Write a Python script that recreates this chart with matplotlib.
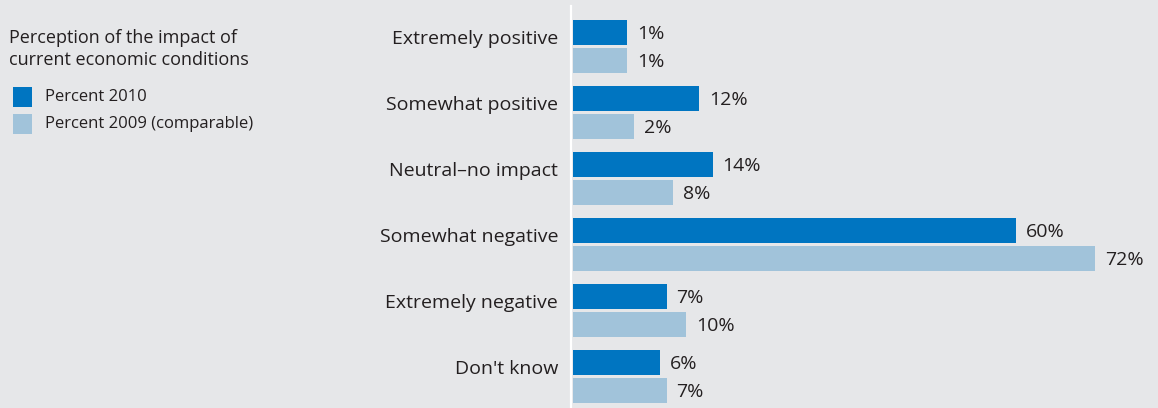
import matplotlib
matplotlib.use("Agg")
import matplotlib.pyplot as plt
from matplotlib.patches import Rectangle
import numpy as np

categories = ["Extremely positive", "Somewhat positive", "Neutral\u2013no impact",
              "Somewhat negative", "Extremely negative", "Don't know"]
pct_2010 = [1, 12, 14, 60, 7, 6]
pct_2009 = [1, 2, 8, 72, 10, 7]
series_names = ["Percent 2010", "Percent 2009 (comparable)"]
legend_title = "Perception of the impact of\ncurrent economic conditions"

DARK = "#0075c1"
LIGHT = "#a1c3da"
BG = "#e6e7e9"
TXT = "#231f20"
FONT = "Open Sans"
FS = 14

W, H = 1158, 408
fig = plt.figure(figsize=(W / 100, H / 100), dpi=100)
fig.patch.set_facecolor(BG)

ax_left, ax_top, ax_bottom = 570.5, 6, 408
ax = fig.add_axes([ax_left / W, 1 - ax_bottom / H, (W - ax_left) / W, (ax_bottom - ax_top) / H])
ax.set_facecolor(BG)

px_per_pct = 6.59
zero_px = 620.4
xmin = (ax_left - zero_px) / px_per_pct
xmax = (W - zero_px) / px_per_pct
base = (573 - zero_px) / px_per_pct

pitch = 66.0
y0 = 46.5
ax.set_xlim(xmin, xmax)
ax.set_ylim((ax_bottom - y0) / pitch, (ax_top - y0) / pitch)

y = np.arange(len(categories))
off = 14 / pitch
h = 25 / pitch
v10 = np.array(pct_2010)
v09 = np.array(pct_2009)
ax.barh(y - off, v10 - base, left=base, height=h, color=DARK, linewidth=0)
ax.barh(y + off, v09 - base, left=base, height=h, color=LIGHT, linewidth=0)

for yy, v in zip(y - off, v10):
    ax.annotate(f"{v}%", (v, yy), xytext=(7.2, -0.8), textcoords="offset points",
                va="center", ha="left", fontsize=FS, family=FONT, color=TXT)
for yy, v in zip(y + off, v09):
    ax.annotate(f"{v}%", (v, yy), xytext=(7.2, -0.8), textcoords="offset points",
                va="center", ha="left", fontsize=FS, family=FONT, color=TXT)

ax.set_yticks(y - 9 / pitch)
ax.set_yticklabels(categories, fontsize=FS, family=FONT, color=TXT)
ax.tick_params(axis="y", length=0, pad=9)
ax.set_xticks([])
for s in ["top", "right", "bottom"]:
    ax.spines[s].set_visible(False)
ax.spines["left"].set_color("white")
ax.spines["left"].set_linewidth(1.6)

# legend
fig.text(9 / W, 1 - 38 / H, legend_title.split("\n")[0], fontsize=13, family=FONT,
         color=TXT, va="center", ha="left")
fig.text(9 / W, 1 - 60 / H, legend_title.split("\n")[1], fontsize=13, family=FONT,
         color=TXT, va="center", ha="left")
for i, (name, col) in enumerate(zip(series_names, [DARK, LIGHT])):
    yc = 97 + 27 * i
    fig.patches.append(Rectangle((13 / W, 1 - (yc + 9.5) / H), 19 / W, 19 / H,
                                 transform=fig.transFigure, facecolor=col, edgecolor="none"))
    fig.text(45 / W, 1 - yc / H, name, fontsize=12, family=FONT, color=TXT,
             va="center", ha="left")

fig.savefig("out.png", dpi=100, facecolor=BG)
